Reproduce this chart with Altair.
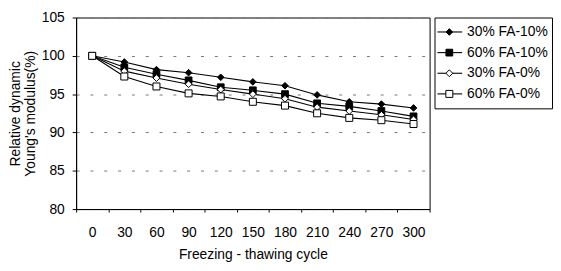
import altair as alt
import pandas as pd

cycles = [0, 30, 60, 90, 120, 150, 180, 210, 240, 270, 300]
series_names = ["30% FA-10%", "60% FA-10%", "30% FA-0%", "60% FA-0%"]
s_30_10 = [100, 99.2, 98.2, 97.8, 97.2, 96.6, 96.1, 94.9, 94.0, 93.7, 93.2]
s_60_10 = [100, 98.5, 97.6, 96.8, 95.9, 95.5, 95.0, 93.8, 93.4, 92.8, 92.1]
s_30_0 = [100, 98.0, 97.1, 96.3, 95.6, 95.0, 94.4, 93.3, 92.8, 92.3, 91.7]
s_60_0 = [100, 97.3, 96.0, 95.1, 94.7, 94.0, 93.5, 92.5, 91.9, 91.6, 91.1]

rows = []
for name, vals in zip(series_names, [s_30_10, s_60_10, s_30_0, s_60_0]):
    for c, v in zip(cycles, vals):
        rows.append({"cycle": c, "series": name, "value": v})
df = pd.DataFrame(rows)

FONT = "Liberation Sans"
shape_scale = alt.Scale(domain=series_names, range=["diamond", "square", "diamond", "square"])
fill_scale = alt.Scale(domain=series_names, range=["black", "black", "white", "white"])
size_scale = alt.Scale(domain=series_names, range=[45, 50, 22, 45])

xenc = alt.X(
    "cycle:O",
    scale=alt.Scale(type="band", paddingInner=0, paddingOuter=0),
    bandPosition=0.5,
    axis=alt.Axis(
        title="Freezing - thawing cycle",
        labelAngle=0,
        tickBand="extent",
        tickSize=3,
        labelPadding=14,
        titlePadding=8,
        grid=False,
    ),
)
yenc = alt.Y(
    "value:Q",
    scale=alt.Scale(domain=[80, 105], nice=False, zero=False),
    axis=alt.Axis(
        title=["Relative dynamic", "Young's modulus(%)"],
        values=[80, 85, 90, 95, 100, 105],
        tickSize=4,
        labelPadding=8,
        titlePadding=4,
        titleLineHeight=15,
        grid=True,
        gridDash=[3, 11],
        gridColor="#777777",
        gridWidth=1,
    ),
)

base = alt.Chart(df)
lines = base.mark_line(color="black", strokeWidth=1.1).encode(
    x=xenc, y=yenc, detail="series:N"
)
points = base.mark_point(stroke="black", strokeWidth=1, opacity=1, fillOpacity=1).encode(
    x=xenc,
    y=yenc,
    shape=alt.Shape("series:N", scale=shape_scale, legend=None),
    fill=alt.Fill("series:N", scale=fill_scale, legend=None),
    size=alt.Size("series:N", scale=size_scale, legend=None),
)
main = alt.layer(lines, points).properties(width=358, height=194)

leg_df = pd.DataFrame({"series": series_names})
ly = alt.Y("series:N", sort=series_names, axis=None,
           scale=alt.Scale(type="point", domain=series_names, padding=0.7))
lbase = alt.Chart(leg_df)
lrule = lbase.mark_rule(color="black", strokeWidth=1.1).encode(
    x=alt.value(3), x2=alt.value(28), y=ly
)
lpts = lbase.mark_point(stroke="black", strokeWidth=1, opacity=1, fillOpacity=1).encode(
    x=alt.value(15),
    y=ly,
    shape=alt.Shape("series:N", scale=shape_scale, legend=None),
    fill=alt.Fill("series:N", scale=fill_scale, legend=None),
    size=alt.Size("series:N", scale=size_scale, legend=None),
)
ltext = lbase.mark_text(align="left", baseline="middle", font=FONT, fontSize=14, color="black").encode(
    x=alt.value(33), y=ly, text="series:N"
)
legend = alt.layer(lrule, lpts, ltext).properties(width=119, height=92)

chart = alt.hconcat(main, legend, spacing=5, bounds="flush").properties(
    padding={"left": 0, "top": 0, "right": 0, "bottom": 0}
).configure_view(stroke="black", strokeWidth=1).configure_axis(
    labelFont=FONT, titleFont=FONT, labelFontSize=14, titleFontSize=14,
    labelColor="black", titleColor="black", titleFontWeight="normal",
    domainColor="black", tickColor="black", domainWidth=1,
).configure_concat(spacing=5)

chart.save("out.html", embed_options={"renderer": "svg", "actions": False})
